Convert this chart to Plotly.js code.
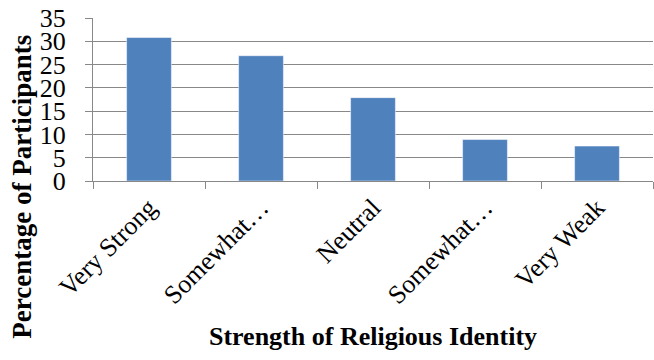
<!DOCTYPE html>
<html>
<head>
<meta charset="utf-8">
<script src="https://cdn.plot.ly/plotly-3.0.1.min.js"></script>
<style>html,body{margin:0;padding:0;background:#fff;}#chart{width:654px;height:360px;}</style>
</head>
<body>
<div id="chart"></div>
<script>
const categories = ['Very Strong', 'Somewhat Strong', 'Neutral', 'Somewhat Weak', 'Very Weak'];
const tickLabels = ['Very Strong', 'Somewhat…', 'Neutral', 'Somewhat…', 'Very Weak'];
const percentages = [30.8, 26.9, 17.9, 8.9, 7.5];
const xTitle = 'Strength of Religious Identity';
const yTitle = 'Percentage of Participants';

const FONT = 'Times New Roman, Liberation Serif, serif';
const GRID = '#888888';

const trace = {
  type: 'bar',
  x: categories,
  y: percentages,
  marker: {color: '#4F81BD', line: {color: '#ffffff', width: 0.5}},
  hoverinfo: 'x+y'
};

const layout = {
  width: 654, height: 360,
  margin: {l: 93, r: 1, t: 18, b: 179},
  paper_bgcolor: '#ffffff', plot_bgcolor: '#ffffff',
  font: {family: FONT, color: '#000000', size: 26},
  bargap: 0.6,
  showlegend: false,
  xaxis: {
    type: 'category',
    tickmode: 'array', tickvals: categories, ticktext: tickLabels,
    tickangle: -45,
    tickson: 'boundaries',
    ticks: 'outside', ticklen: 7, tickcolor: GRID, tickwidth: 1,
    showline: true, linecolor: GRID, linewidth: 1,
    showgrid: false,
    tickfont: {family: FONT, size: 26, color: '#000'},
    title: {text: xTitle, font: {family: FONT, size: 26, color: '#000', weight: 'bold'}, standoff: 18}
  },
  yaxis: {
    range: [0, 35], dtick: 5, tick0: 0,
    ticks: 'outside', ticklen: 7, tickcolor: GRID, tickwidth: 1,
    showline: true, linecolor: GRID, linewidth: 1,
    showgrid: true, gridcolor: GRID, gridwidth: 1,
    zeroline: false,
    tickfont: {family: FONT, size: 26, color: '#000'},
    ticklabelstandoff: 14
  },
  annotations: [{
    text: '<b>' + yTitle + '</b>',
    textangle: -90,
    xref: 'paper', yref: 'paper',
    x: -0.127, y: -0.036,
    xanchor: 'center', yanchor: 'middle',
    showarrow: false,
    font: {family: FONT, size: 27, color: '#000'}
  }]
};

Plotly.newPlot('chart', [trace], layout, {displayModeBar: false, staticPlot: true});
</script>
</body>
</html>
